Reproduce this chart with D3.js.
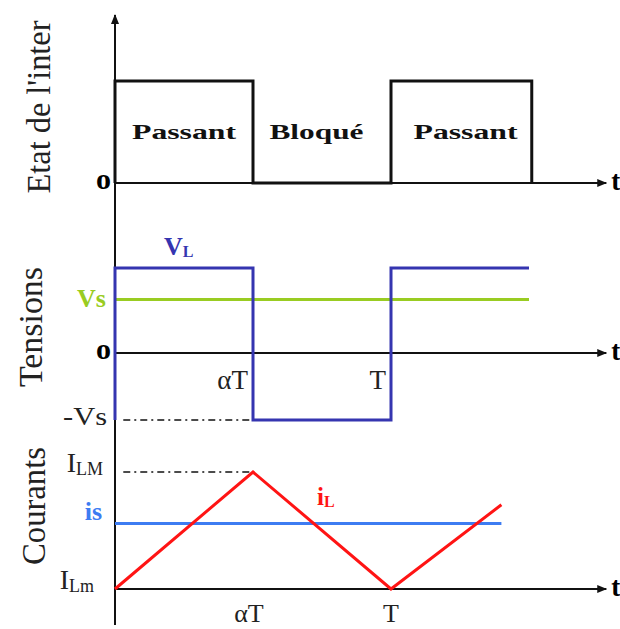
<!DOCTYPE html>
<html>
<head>
<meta charset="utf-8">
<script src="https://cdn.jsdelivr.net/npm/d3@7"></script>
<style>
    body { margin: 0; background: #fff; }
    svg { display: block; }
    .serif { font-family: "Liberation Serif", "Times New Roman", serif; }
</style>
</head>
<body>
<div id="svg-container"></div>
<script>

// time is in units of the period T
const stateTimes = [0, 0, 0.5, 0.5, 1, 1, 1.51, 1.51];
const stateValues = [0, 1, 1, 0, 0, 1, 1, 0];
const stateLabels = ["Passant", "Bloqué", "Passant"];
const stateLabelTimes = [0.25, 0.73, 1.27];

const vlTimes = [0, 0, 0.5, 0.5, 1, 1, 1.5];
const vlValues = [-1, 1.27, 1.27, -1, -1, 1.27, 1.27];
const vsTimes = [0, 1.5];
const vsValues = [0.8, 0.8];

const ilTimes = [0, 0.5, 1, 1.4];
const ilValues = [0, 1, 0, 0.72];
const isTimes = [0, 1.4];
const isValues = [0.56, 0.56];

const tickTimes = [0.5, 1];
const tickLabels = ["αT", "T"];
const panelTitles = ["Etat de l'inter", "Tensions", "Courants"];

const W = 620, H = 629;
const tEnd = 1.78;

const svg = d3.select("#svg-container")
    .append("svg")
    .attr("width", W)
    .attr("height", H)
    .attr("class", "serif");

svg.append("defs").append("marker")
    .attr("id", "arrow")
    .attr("viewBox", "0 -5 10 10")
    .attr("refX", 9)
    .attr("refY", 0)
    .attr("markerWidth", 10)
    .attr("markerHeight", 10)
    .attr("markerUnits", "userSpaceOnUse")
    .attr("orient", "auto")
    .append("path")
    .attr("d", "M0,-4L10,0L0,4Z")
    .attr("fill", "#111");

const x = d3.scaleLinear().domain([0, 1]).range([115, 391]);
const yState = d3.scaleLinear().domain([0, 1]).range([183, 81]);
const yVolt = d3.scaleLinear().domain([-1, 1]).range([420, 286]);
const yCur = d3.scaleLinear().domain([0, 1]).range([589, 472]);

const zip = (ts, vs) => ts.map((t, i) => [t, vs[i]]);

const drawLine = (pts, y, color, width) => {
    svg.append("path")
        .attr("d", d3.line().x(d => x(d[0])).y(d => y(d[1]))(pts))
        .attr("fill", "none")
        .attr("stroke", color)
        .attr("stroke-width", width)
        .attr("stroke-linejoin", "miter");
};

// time axes, one per panel
const timeAxis = (y0) => {
    svg.append("line")
        .attr("x1", x(0)).attr("x2", x(tEnd))
        .attr("y1", y0).attr("y2", y0)
        .attr("stroke", "#111")
        .attr("stroke-width", 2)
        .attr("marker-end", "url(#arrow)");
    svg.append("text")
        .attr("x", x(tEnd) + 5)
        .attr("y", y0 + 7)
        .attr("font-size", 27)
        .attr("font-weight", "bold")
        .text("t");
};

timeAxis(yState(0));
timeAxis(yVolt(0));
timeAxis(yCur(0));

// common vertical axis
svg.append("line")
    .attr("x1", x(0)).attr("x2", x(0))
    .attr("y1", 625).attr("y2", 15)
    .attr("stroke", "#111")
    .attr("stroke-width", 2)
    .attr("marker-end", "url(#arrow)");

// guide lines (dash-dot)
const guide = (y0) => {
    svg.append("line")
        .attr("x1", x(0.03)).attr("x2", x(0.49))
        .attr("y1", y0).attr("y2", y0)
        .attr("stroke", "#111")
        .attr("stroke-width", 1.5)
        .attr("stroke-dasharray", "7,4,2,4");
};
guide(yVolt(-1));
guide(yCur(1));

// panel 1 : switch state
drawLine(zip(stateTimes, stateValues), yState, "#111", 3);

svg.selectAll(".state-label")
    .data(stateLabels)
    .enter()
    .append("text")
    .attr("class", "state-label")
    .attr("x", (d, i) => x(stateLabelTimes[i]))
    .attr("y", 139)
    .attr("text-anchor", "middle")
    .attr("font-size", 22)
    .attr("font-weight", "bold")
    .attr("fill", "#111")
    .attr("textLength", d => d === "Bloqué" ? 94 : 104)
    .attr("lengthAdjust", "spacingAndGlyphs")
    .text(d => d);

// panel 2 : voltages
drawLine(zip(vsTimes, vsValues), yVolt, "#99cc22", 3);
drawLine(zip(vlTimes, vlValues), yVolt, "#3535b0", 3);

// panel 3 : currents
drawLine(zip(isTimes, isValues), yCur, "#3d7cf2", 3);
drawLine(zip(ilTimes, ilValues), yCur, "#ff1414", 3);

// panel titles (rotated)
const titlePos = [[50, 107, 173], [42, 327, 120], [45, 506, 118]];
svg.selectAll(".title")
    .data(panelTitles)
    .enter()
    .append("text")
    .attr("class", "title")
    .attr("transform", (d, i) => `translate(${titlePos[i][0]},${titlePos[i][1]}) rotate(-90)`)
    .attr("text-anchor", "middle")
    .attr("font-size", 33)
    .attr("fill", "#222")
    .attr("textLength", (d, i) => titlePos[i][2])
    .attr("lengthAdjust", "spacingAndGlyphs")
    .text(d => d);

// zero labels
[yState(0), yVolt(0)].forEach(y0 => {
    svg.append("text")
        .attr("x", 111).attr("y", y0 + 6)
        .attr("text-anchor", "end")
        .attr("font-size", 30)
        .attr("font-weight", "bold")
        .text("o");
});

// voltage labels
svg.append("text")
    .attr("x", 106).attr("y", yVolt(0.8) + 8)
    .attr("text-anchor", "end")
    .attr("font-size", 26)
    .attr("font-weight", "bold")
    .attr("fill", "#99cc22")
    .text("Vs");

svg.append("text")
    .attr("x", 107).attr("y", yVolt(-1) + 5)
    .attr("text-anchor", "end")
    .attr("font-size", 26)
    .attr("fill", "#222")
    .attr("textLength", 44)
    .attr("lengthAdjust", "spacingAndGlyphs")
    .text("-Vs");

const vl = svg.append("text")
    .attr("x", 164).attr("y", 255)
    .attr("font-size", 26)
    .attr("font-weight", "bold")
    .attr("fill", "#3535b0");
vl.append("tspan").text("V");
vl.append("tspan").attr("font-size", 16).attr("dy", 2).text("L");

// tick labels on the voltage axis
svg.selectAll(".vtick")
    .data(tickLabels)
    .enter()
    .append("text")
    .attr("class", "vtick")
    .attr("x", (d, i) => x(tickTimes[i]) - 5)
    .attr("y", 389)
    .attr("text-anchor", "end")
    .attr("font-size", 27)
    .attr("fill", "#222")
    .text(d => d);

// tick labels under the current axis
svg.selectAll(".ctick")
    .data(tickLabels)
    .enter()
    .append("text")
    .attr("class", "ctick")
    .attr("x", (d, i) => x(tickTimes[i]) - 4 * (1 - i))
    .attr("y", 622)
    .attr("text-anchor", "middle")
    .attr("font-size", 26)
    .attr("fill", "#222")
    .text(d => d);

// current labels
const ilm = svg.append("text")
    .attr("x", 103).attr("y", 472)
    .attr("text-anchor", "end")
    .attr("font-size", 28)
    .attr("fill", "#222");
ilm.append("tspan").text("I");
ilm.append("tspan").attr("font-size", 18).attr("dy", 3).text("LM");

const ilmin = svg.append("text")
    .attr("x", 94).attr("y", 589)
    .attr("text-anchor", "end")
    .attr("font-size", 28)
    .attr("fill", "#222");
ilmin.append("tspan").text("I");
ilmin.append("tspan").attr("font-size", 18).attr("dy", 3).text("Lm");

svg.append("text")
    .attr("x", 102).attr("y", 520)
    .attr("text-anchor", "end")
    .attr("font-size", 26)
    .attr("font-weight", "bold")
    .attr("fill", "#3d7cf2")
    .text("is");

const il = svg.append("text")
    .attr("x", 317).attr("y", 505)
    .attr("font-size", 25)
    .attr("font-weight", "bold")
    .attr("fill", "#ff1414");
il.append("tspan").text("i");
il.append("tspan").attr("font-size", 16).attr("dy", 2).text("L");

</script>
</body>
</html>
